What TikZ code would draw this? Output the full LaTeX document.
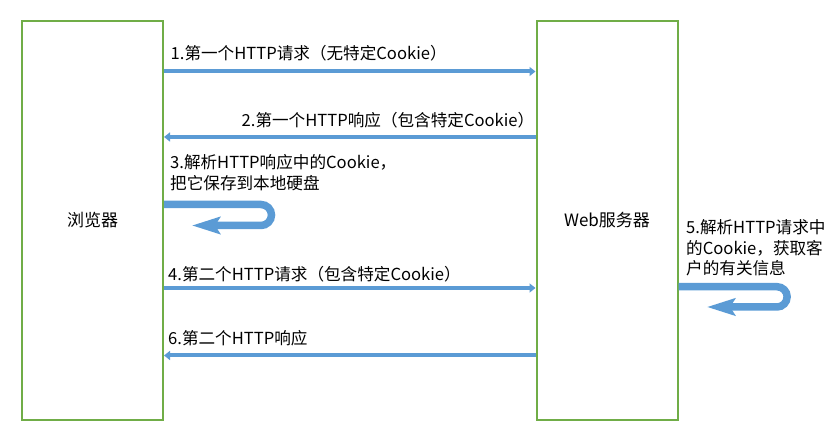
\documentclass[tikz,border=0pt]{standalone}
\usepackage{fontspec}
\setmainfont{Noto Sans CJK SC}
\usetikzlibrary{arrows.meta}
\definecolor{lineblue}{HTML}{5B9BD5}
\definecolor{boxgreen}{HTML}{70AD47}
\begin{document}
\begin{tikzpicture}[x=1pt,y=1pt,
  box/.style={draw=boxgreen, line width=2pt, minimum width=141pt, minimum height=399pt, inner sep=0pt, font=\fontsize{17}{20}\selectfont},
  msgarrow/.style={draw=lineblue, line width=4pt, -{Triangle[length=6pt,width=9pt]}},
  looparrow/.style={draw=lineblue, line width=7.5pt, -{Stealth[length=28pt,width=17pt,inset=5pt]}},
  lbl/.style={anchor=base west, inner sep=0pt, font=\fontsize{16.6}{20}\selectfont}]
\useasboundingbox (0,0) rectangle (836,438);
\node[box] (B) at (92.5,217.5) {浏览器};
\node[box] (S) at (607,217.5) {Web服务器};
% arrows
\coordinate (y1) at (0,366.5);
\coordinate (y2) at (0,301);
\coordinate (y4) at (0,150);
\coordinate (y6) at (0,82.5);
\draw[msgarrow] (B.east |- y1) -- (S.west |- y1);
\draw[msgarrow] (S.west |- y2) -- (B.east |- y2);
\draw[msgarrow] (B.east |- y4) -- (S.west |- y4);
\draw[msgarrow] (S.west |- y6) -- (B.east |- y6);
% loops
\coordinate (l3) at (0,233.5);
\coordinate (t3) at (192,212.5);
\draw[looparrow] (B.east |- l3) -- (261,233.5) arc[start angle=90,end angle=-90,radius=10.5] -- (t3);
\coordinate (l5) at (0,151.3);
\coordinate (t5) at (707,131);
\draw[looparrow] (S.east |- l5) -- (777,151.3) arc[start angle=90,end angle=-90,radius=10.15] -- (t5);
% labels
\node[lbl] (L1) at (170.5,378) {1.第一个HTTP请求（无特定Cookie）};
\node[lbl] (L2) at (241.5,311) {2.第一个HTTP响应（包含特定Cookie）};
\node[lbl] (L3a) at (170,269) {3.解析HTTP响应中的Cookie，};
\node[lbl] (L3b) at (170,248) {把它保存到本地硬盘};
\node[lbl] (L4) at (168,157.3) {4.第二个HTTP请求（包含特定Cookie）};
\node[lbl] (L6) at (168,93) {6.第二个HTTP响应};
\node[lbl] (L5a) at (686,204) {5.解析HTTP请求中};
\node[lbl] (L5b) at (686,183.5) {的Cookie，获取客};
\node[lbl] (L5c) at (686,163) {户的有关信息};
\end{tikzpicture}
\end{document}
